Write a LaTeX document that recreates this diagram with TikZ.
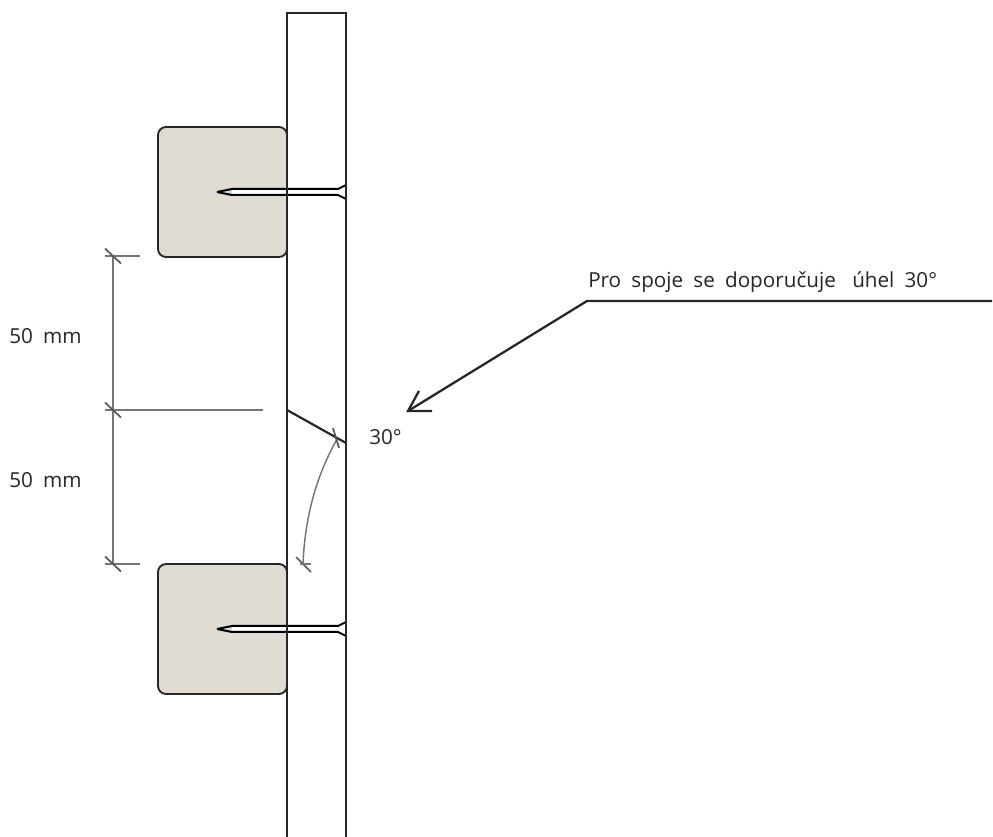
\documentclass[tikz,border=0pt]{standalone}
\usepackage{fontspec}
\setmainfont[WordSpace=1.9]{Open Sans}
\begin{document}
\begin{tikzpicture}[x=0.75pt,y=-0.75pt,
  outline/.style={draw=black!85,line width=1.65pt},
  block/.style={fill=blockfill,draw=black!85,line width=1.4pt,rounded corners=6pt},
  dimline/.style={draw=dimgray,line width=1.1pt},
  tickline/.style={draw=black!65,line width=1.3pt},
  nailline/.style={draw=black,line width=1.5pt,line join=miter},
  leader/.style={draw=black!85,line width=1.7pt},
  lab/.style={anchor=base west,inner sep=0pt,font=\fontsize{15.5pt}{18pt}\selectfont,text=black!85}]
\definecolor{blockfill}{HTML}{E0DBD3}
\definecolor{dimgray}{HTML}{767676}
\useasboundingbox (0,0) rectangle (993,837);
\fill[white] (0,0) rectangle (993,837);
% blocks
\draw[block] (158,127) rectangle (287,257);
\draw[block] (158,564) rectangle (287,694);
% nails
\foreach \ny in {192,629}{
  \fill[white] (232,\ny-2.8) -- (338,\ny-2.8) -- (346,\ny-7) -- (346,\ny+7) -- (338,\ny+2.8) -- (232,\ny+2.8) -- cycle;
  \draw[nailline] (217,\ny) -- (232,\ny-3) -- (338,\ny-3) -- (346,\ny-7);
  \draw[nailline] (217,\ny) -- (232,\ny+3) -- (338,\ny+3) -- (346,\ny+7);
}
% board
\draw[outline] (287,837) -- (287,13) -- (346,13) -- (346,837);
% joint
\coordinate (jl) at (287,410);
\coordinate (jr) at (346,443);
\draw[outline] (jl) -- (jr);
% dimensions
\coordinate (d1) at (113,256);
\coordinate (d2) at (113,410);
\coordinate (d3) at (113,564);
\draw[dimline] (d1) -- (d3);
\draw[dimline] (105,256) -- (140,256);
\draw[dimline] (105,410) -- (263,410);
\draw[dimline] (105,564) -- (140,564);
\foreach \c in {d1,d2,d3}{
  \draw[tickline] ([shift={(-8,-7.5)}]\c) -- ([shift={(8,7.5)}]\c);
}
% angle arc
\coordinate (a1) at (337,439);
\coordinate (a2) at (303,564);
\draw[dimline] (a1) .. controls (317,475) and (305,515) .. (a2);
\draw[tickline] (333,428) -- (339,448);
\draw[tickline] (296,557) -- (311,572);
\draw[dimline] (300,564) -- (311,564);
% leader
\coordinate (le) at (992,301);
\coordinate (lk) at (587,301);
\coordinate (lt) at (408,411);
\draw[leader] (le) -- (lk) -- (lt);
\draw[leader] (419,391) -- (lt) -- (432,411);
% labels
\node[lab] (t1) at (9,344) {50 mm};
\node[lab] (t2) at (9,488) {50 mm};
\node[lab] (t3) at (369,445) {30°};
\node[lab] (t4) at (588,288) {Pro spoje se doporučuje\hspace{0.3em} úhel 30°};
\end{tikzpicture}
\end{document}
